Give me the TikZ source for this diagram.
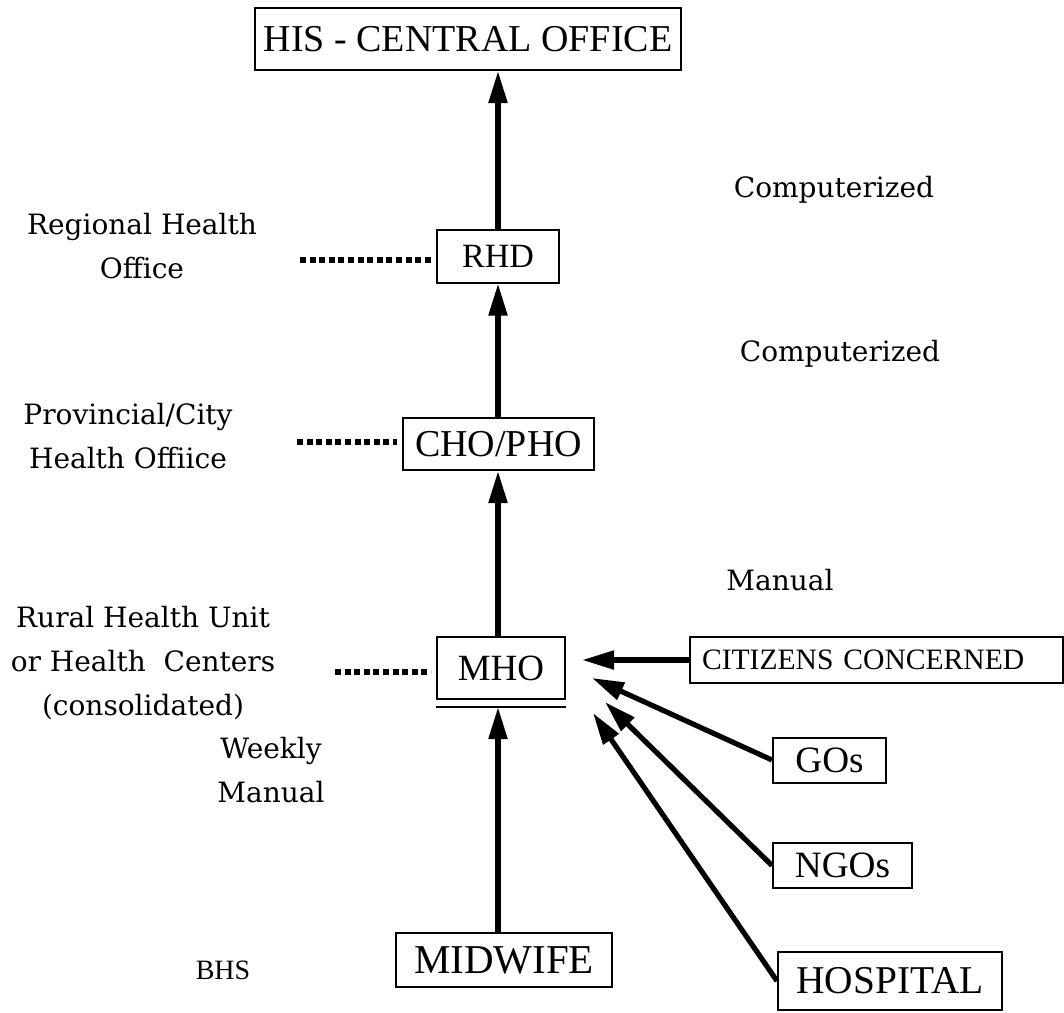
\documentclass[tikz,border=0pt]{standalone}
\usepackage{fontspec}
\setmainfont{Liberation Serif}
\newfontfamily\lblfont{DejaVu Serif}
\usetikzlibrary{arrows.meta}

\tikzset{
  box/.style={draw, line width=1pt, inner sep=0pt},
  up/.style={line width=2.6pt, -{Triangle[length=16pt,width=9pt]}},
  lbl/.style={font=\lblfont\fontsize{14}{22}\selectfont, align=center},
  dots/.style={line width=3pt, dash pattern=on 3pt off 1.8pt},
}

\begin{document}
\begin{tikzpicture}[x=0.5pt,y=-0.5pt]
  \useasboundingbox (0,0) rectangle (1064,1012);

  % main chain
  \node[box, minimum width=213pt, minimum height=31pt, font=\fontsize{19}{22}\selectfont] (his) at (468,39) {HIS - CENTRAL OFFICE};
  \node[box, minimum width=61pt, minimum height=26.5pt, font=\fontsize{17}{20}\selectfont] (rhd) at (498,256) {RHD};
  \node[box, minimum width=95.5pt, minimum height=26pt, font=\fontsize{19}{22}\selectfont] (cho) at (498.5,444) {CHO/PHO};
  \node[box, minimum width=64pt, minimum height=31pt, font=\fontsize{18.5}{22}\selectfont] (mho) at (501,668) {MHO};
  \node[box, minimum width=108pt, minimum height=27pt, font=\fontsize{20.5}{24}\selectfont] (mid) at (504,960) {MIDWIFE};
  \coordinate (mhobase) at ([yshift=-3.5pt]mho.south);
  \draw[line width=1pt] ([yshift=-3.5pt]mho.south west) -- ([yshift=-3.5pt]mho.south east);

  \draw[up] (rhd.north) -- (rhd.north |- his.south);
  \draw[up] (cho.north -| rhd) -- (rhd.south);
  \draw[up] (mho.north -| rhd) -- (cho.south -| rhd);
  \draw[up] (mid.north -| rhd) -- (mhobase -| rhd);

  % other sources
  \node[box, inner xsep=6pt, text width=174.5pt, align=left, minimum height=23pt, font=\fontsize{14.8}{17}\selectfont] (cit) at (876.5,660) {CITIZENS CONCERNED};
  \node[box, minimum width=56.5pt, minimum height=22.5pt, font=\fontsize{18.6}{21}\selectfont] (gos) at (829.5,760) {GOs};
  \node[box, minimum width=69.5pt, minimum height=22.5pt, font=\fontsize{18.6}{21}\selectfont] (ngos) at (842.5,865.5) {NGOs};
  \node[box, minimum width=112pt, minimum height=29pt, font=\fontsize{19.7}{22}\selectfont] (hosp) at (890,981) {HOSPITAL};

  \coordinate (pcit) at (582,660);
  \coordinate (pgos) at (592,678);
  \coordinate (pngos) at (605,702);
  \coordinate (phosp) at (593,713);
  \draw[up] (cit.west) -- (pcit);
  \draw[up] (gos.west) -- (pgos);
  \draw[up] (ngos.west) -- (pngos);
  \draw[up] (hosp.west) -- (phosp);

  % levels on the left
  \node[lbl] (lrhd) at (142,246) {Regional Health\\Office};
  \node[lbl] (lcho) at (128,436) {Provincial/City\\Health Offiice};
  \node[lbl] (lrhu) at (143,663) {Rural Health Unit\\or Health~~Centers\\(consolidated)};
  \node[lbl] (lwk) at (271,770) {Weekly\\Manual};
  \node[font=\fontsize{14}{16}\selectfont] (lbhs) at (223,970) {BHS};

  \coordinate (drhd) at (300,260);
  \coordinate (dcho) at (297,442);
  \coordinate (dmho) at (335,672);
  \draw[dots, shorten >=2.5pt] (drhd) -- (drhd -| rhd.west);
  \draw[dots, shorten >=2.5pt] (dcho) -- (dcho -| cho.west);
  \draw[dots, shorten >=2.5pt] (dmho) -- (dmho -| mho.west);

  % how the data moves
  \node[lbl] (comp1) at (834,190) {Computerized};
  \node[lbl] (comp2) at (840,354) {Computerized};
  \node[lbl] (man) at (780,580) {Manual};
\end{tikzpicture}
\end{document}
